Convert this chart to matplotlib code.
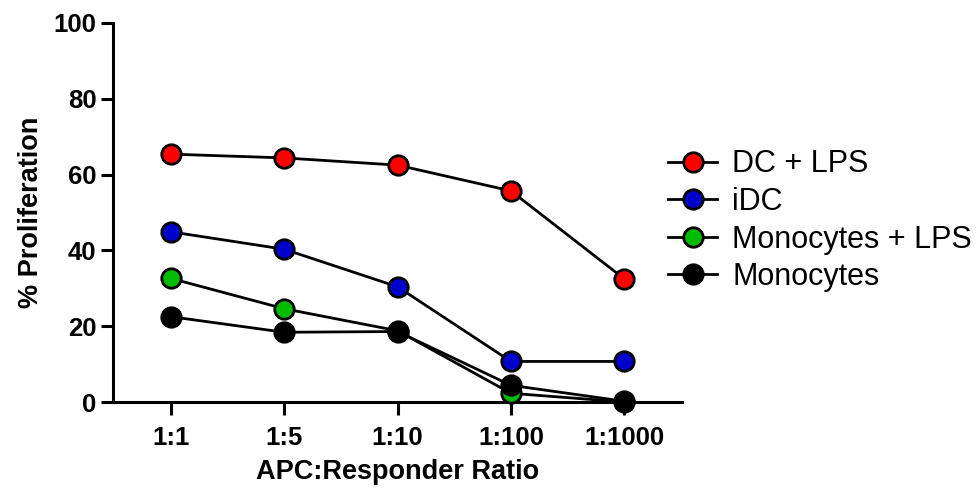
import numpy as np
import matplotlib.pyplot as plt

ratios = ['1:1', '1:5', '1:10', '1:100', '1:1000']
dc_lps = [65.4, 64.4, 62.5, 55.7, 32.5]
idc = [44.9, 40.3, 30.4, 10.7, 10.7]
mono_lps = [32.6, 24.6, 18.8, 2.3, 0.0]
mono = [22.5, 18.4, 18.6, 4.4, 0.2]

series = [('DC + LPS', dc_lps, '#ff0000'),
          ('iDC', idc, '#0000cc'),
          ('Monocytes + LPS', mono_lps, '#00bb00'),
          ('Monocytes', mono, '#000000')]

plt.rcParams['font.family'] = ['Liberation Sans', 'DejaVu Sans']

fig = plt.figure(figsize=(9.8, 4.88), dpi=100)
ax = fig.add_axes([113/980, 1-402/488, 569/980, 379/488])

x = np.arange(len(ratios))
for name, vals, col in series:
    ax.plot(x, vals, '-o', color='black', lw=2, markersize=14,
            markerfacecolor=col, markeredgecolor='black', markeredgewidth=2,
            label=name, clip_on=False, zorder=3)

ax.set_xlim(-0.512, 4.51)
ax.set_ylim(0, 100)
ax.set_yticks([0, 20, 40, 60, 80, 100])
ax.set_xticks(x)
ax.set_xticklabels(ratios)
for s in ['top', 'right']:
    ax.spines[s].set_visible(False)
for s in ['left', 'bottom']:
    ax.spines[s].set_linewidth(2.2)
ax.tick_params(direction='out', length=9, width=2.2, labelsize=18.5)
ax.tick_params(axis='y', pad=3)
ax.tick_params(axis='x', pad=8)
for lab in ax.get_xticklabels() + ax.get_yticklabels():
    lab.set_fontweight('bold')

ax.set_xlabel('APC:Responder Ratio', fontsize=19.5, fontweight='bold', labelpad=7)
ax.set_ylabel('% Proliferation', fontsize=19.5, fontweight='bold', labelpad=7)

fig.legend(loc='upper left', bbox_to_anchor=(656/980, 1-137/488), frameon=False,
           fontsize=22, handlelength=1.6, handletextpad=0.5, labelspacing=0.25,
           borderaxespad=0)

plt.savefig('out.png', dpi=100)
